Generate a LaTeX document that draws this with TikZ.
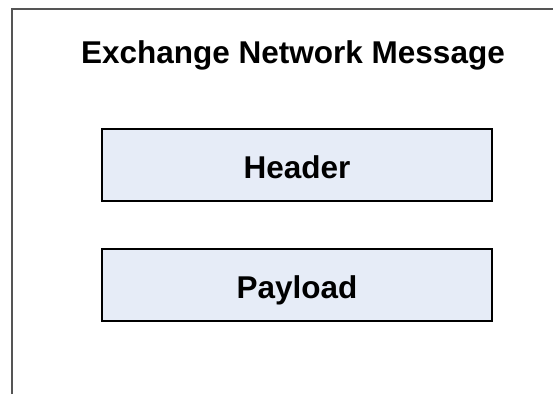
\documentclass[tikz,border=0pt]{standalone}
\usepackage{fontspec}
\setmainfont{Liberation Sans}
\definecolor{boxfill}{HTML}{E6ECF7}
\definecolor{framegray}{HTML}{555555}
\begin{document}
\begin{tikzpicture}[x=1pt,y=-1pt,
  every node/.style={font=\bfseries\fontsize{31.5}{38}\selectfont},
  partbox/.style={draw=black,line width=1.4pt,fill=boxfill,minimum width=390pt,minimum height=72pt,inner sep=0pt,text height=28pt,text depth=2pt},
  frameline/.style={draw=framegray,line width=1.6pt}]
\useasboundingbox (0,0) rectangle (553,394);
\coordinate (fbot) at (12,394);
\coordinate (fcorner) at (12,9);
\coordinate (fright) at (553,9);
\draw[frameline] (fbot) -- (fcorner) -- (fright);
\node[anchor=base] (title) at (293,63) {Exchange Network Message};
\node[partbox] (header) at (297,165) {Header};
\node[partbox] (payload) at (297,285) {Payload};
\end{tikzpicture}
\end{document}
